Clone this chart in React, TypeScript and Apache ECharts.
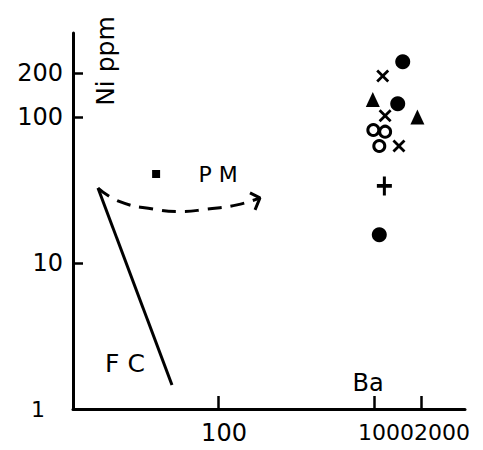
import React, { useEffect, useRef } from 'react';
import * as echarts from 'echarts';

// Tick labels
const xTickValues = [100, 1000, 2000];
const yTickValues = [1, 10, 100, 200];

// Sample points (Ba ppm, Ni ppm)
const filledCircles = [[1528, 239], [1419, 123], [1081, 15.6]];
const openCircles = [[990, 81.5], [1178, 79.3], [1081, 63.3]];
const triangles = [[982, 132], [1897, 100]];
const crosses = [[1137, 191], [1178, 102], [1445, 63.3]];
const pluses = [[1165, 33.7]];
const pmPoint = [[40.1, 40.7]];

// Trends
const fcLine = [[17.0, 32.6], [50.7, 1.46]];
const pmCurve = [[17.0, 32.6], [23.5, 26.3], [38.3, 23.4], [57.9, 22.5], [85.0, 23.4], [132.4, 25.0], [185.7, 27.9]];
const pmArrowHead = [[160.3, 30.2], [185.7, 27.9], [172.7, 23.1]];

const FONT = 'DejaVu Sans';
const INK = '#000';

const crossPath = 'path://M1.5,0 L5,3.5 L8.5,0 L10,1.5 L6.5,5 L10,8.5 L8.5,10 L5,6.5 L1.5,10 L0,8.5 L3.5,5 L0,1.5 Z';
const plusPath = 'path://M4,0 L6,0 L6,4 L10,4 L10,6 L6,6 L6,10 L4,10 L4,6 L0,6 L0,4 L4,4 Z';

export default function App() {
  const ref = useRef<HTMLDivElement>(null);
  useEffect(() => {
    if (!ref.current) return;
    const chart = echarts.init(ref.current, null, { renderer: 'svg' });
    chart.setOption({
      animation: false,
      backgroundColor: '#fff',
      grid: { left: 73, top: 33, right: 18, bottom: 41, containLabel: false, outerBoundsMode: 'none' },
      xAxis: {
        type: 'log',
        logBase: 10,
        min: 11.76,
        max: 3830,
        axisLine: { show: true, lineStyle: { color: INK, width: 3 } },
        splitLine: { show: false },
        minorTick: { show: false },
        axisTick: { show: true, inside: true, length: 13, customValues: xTickValues, lineStyle: { color: INK, width: 2.5 } },
        axisLabel: {
          show: true,
          customValues: xTickValues,
          margin: 12,
          color: INK,
          fontFamily: FONT,
          fontSize: 22,
          formatter: (v: number) => (v === 100 ? '{a|100}' : v === 1000 ? '{b|1000}' : '{c|2000}'),
          rich: {
            a: { fontFamily: FONT, fontSize: 24, color: INK, padding: [0, 0, 0, 12] },
            b: { fontFamily: FONT, fontSize: 22, color: INK, padding: [0, 0, 0, 24] },
            c: { fontFamily: FONT, fontSize: 22, color: INK, padding: [0, 0, 0, 42] },
          },
        },
      },
      yAxis: {
        type: 'log',
        logBase: 10,
        min: 1,
        max: 376,
        axisLine: { show: true, lineStyle: { color: INK, width: 3 } },
        splitLine: { show: false },
        minorTick: { show: false },
        axisTick: { show: true, inside: true, length: 10, customValues: [10, 100, 200], lineStyle: { color: INK, width: 2.5 } },
        axisLabel: {
          show: true,
          customValues: yTickValues,
          margin: 10,
          color: INK,
          fontFamily: FONT,
          fontSize: 24,
          formatter: (v: number) => (v === 1 ? '{one|1}' : '{n|' + v + '}'),
          rich: {
            one: { fontFamily: FONT, fontSize: 22, color: INK, padding: [0, 18, 0, 0] },
            n: { fontFamily: FONT, fontSize: 24, color: INK },
          },
        },
      },
      series: [
        {
          name: 'FC',
          type: 'line',
          data: fcLine,
          symbol: 'none',
          lineStyle: { color: INK, width: 3 },
        },
        {
          name: 'PM trend',
          type: 'line',
          data: pmCurve,
          symbol: 'none',
          smooth: 0.5,
          lineStyle: { color: INK, width: 3, type: [14, 9] },
        },
        {
          name: 'PM arrow',
          type: 'line',
          data: pmArrowHead,
          symbol: 'none',
          lineStyle: { color: INK, width: 3 },
        },
        {
          name: 'PM',
          type: 'scatter',
          data: pmPoint,
          symbol: 'rect',
          symbolSize: 8,
          itemStyle: { color: INK, opacity: 1 },
        },
        {
          name: 'filled circle',
          type: 'scatter',
          data: filledCircles,
          symbol: 'circle',
          symbolSize: 15,
          itemStyle: { color: INK, opacity: 1 },
        },
        {
          name: 'open circle',
          type: 'scatter',
          data: openCircles,
          symbol: 'circle',
          symbolSize: 11,
          itemStyle: { color: '#fff', borderColor: INK, borderWidth: 3, opacity: 1 },
        },
        {
          name: 'triangle',
          type: 'scatter',
          data: triangles,
          symbol: 'triangle',
          symbolSize: [14, 15],
          itemStyle: { color: INK, opacity: 1 },
        },
        {
          name: 'cross',
          type: 'scatter',
          data: crosses,
          symbol: crossPath,
          symbolSize: 13,
          itemStyle: { color: INK, opacity: 1 },
        },
        {
          name: 'plus',
          type: 'scatter',
          data: pluses,
          symbol: plusPath,
          symbolSize: [15, 19],
          itemStyle: { color: INK, opacity: 1 },
        },
      ],
      graphic: [
        {
          type: 'text',
          x: 105,
          y: 61,
          rotation: Math.PI / 2,
          style: { text: 'Ni ppm', fontFamily: FONT, fontSize: 25, fill: INK, align: 'center', verticalAlign: 'middle' },
        },
        {
          type: 'text',
          x: 218,
          y: 174,
          style: { text: 'P M', fontFamily: FONT, fontSize: 22, fill: INK, align: 'center', verticalAlign: 'middle' },
        },
        {
          type: 'text',
          x: 125,
          y: 363,
          style: { text: 'F C', fontFamily: FONT, fontSize: 25, fill: INK, align: 'center', verticalAlign: 'middle' },
        },
        {
          type: 'text',
          x: 368,
          y: 383,
          style: { text: 'Ba', fontFamily: FONT, fontSize: 24, fill: INK, align: 'center', verticalAlign: 'middle' },
        },
      ],
    });
    return () => chart.dispose();
  }, []);
  return <div ref={ref} style={{ position: 'absolute', left: 0, top: 0, width: 483, height: 450 }} />;
}
